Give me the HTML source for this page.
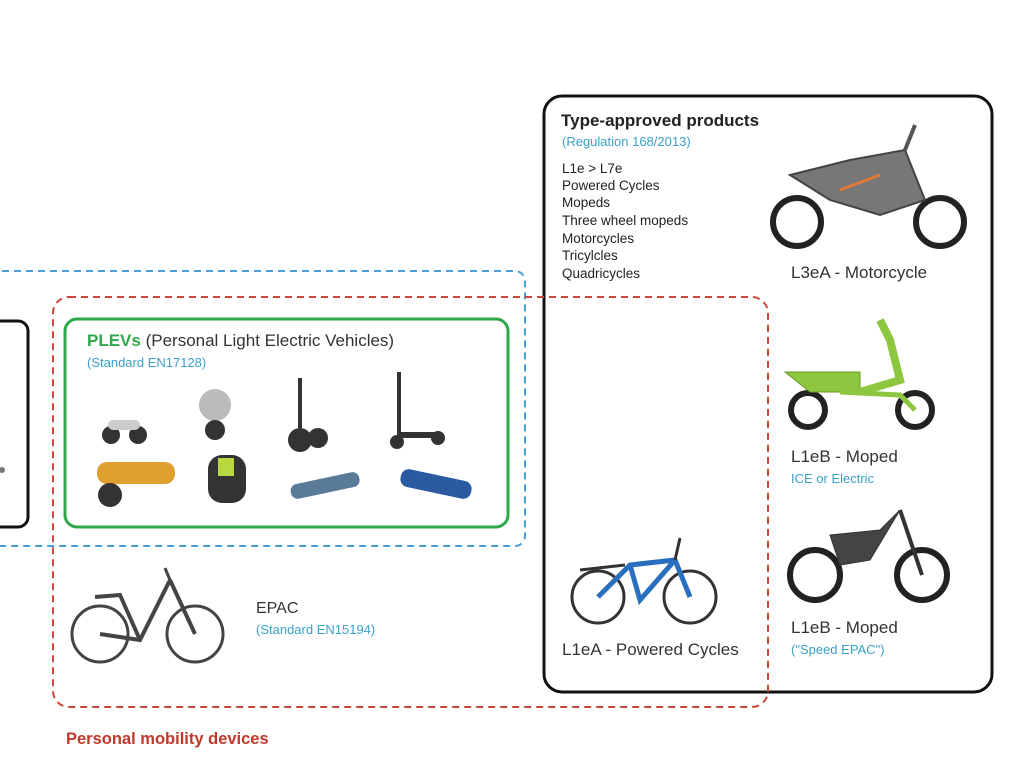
<!DOCTYPE html>
<html><head><meta charset="utf-8"><style>
html,body{margin:0;padding:0;background:#fff;}
body{width:1024px;height:768px;overflow:hidden;position:relative;font-family:"Liberation Sans",sans-serif;}
svg{position:absolute;left:0;top:0;}
</style></head><body>
<svg width="1024" height="768" viewBox="0 0 1024 768" xmlns="http://www.w3.org/2000/svg" font-family="Liberation Sans, sans-serif">
<rect x="544" y="96" width="448" height="596" rx="18" fill="none" stroke="#111" stroke-width="3"/>
<rect x="-20" y="271" width="545" height="275" rx="10" fill="none" stroke="#4a9fd8" stroke-width="2" stroke-dasharray="7,5"/>
<rect x="53" y="297" width="715" height="410" rx="16" fill="none" stroke="#d0453a" stroke-width="2" stroke-dasharray="7,5"/>
<rect x="65" y="319" width="443" height="208" rx="12" fill="none" stroke="#2ea84a" stroke-width="3"/>
<rect x="-20" y="321" width="48" height="206" rx="10" fill="none" stroke="#111" stroke-width="3"/>
<circle cx="2" cy="470" r="3" fill="#777"/>

<text x="561" y="126" font-size="17" font-weight="bold" fill="#222">Type-approved products</text>
<text x="562" y="146" font-size="13" fill="#3aa0c8">(Regulation 168/2013)</text>
<g font-size="13.5" fill="#222">
<text x="562" y="173">L1e &gt; L7e</text>
<text x="562" y="190">Powered Cycles</text>
<text x="562" y="207">Mopeds</text>
<text x="562" y="225">Three wheel mopeds</text>
<text x="562" y="243">Motorcycles</text>
<text x="562" y="260">Tricylcles</text>
<text x="562" y="278">Quadricycles</text>
</g>
<text x="791" y="278" font-size="17" fill="#333">L3eA - Motorcycle</text>
<text x="791" y="462" font-size="17" fill="#333">L1eB - Moped</text>
<text x="791" y="483" font-size="13" fill="#3aa0c8">ICE or Electric</text>
<text x="791" y="633" font-size="17" fill="#333">L1eB - Moped</text>
<text x="791" y="654" font-size="13" fill="#3aa0c8">("Speed EPAC")</text>
<text x="562" y="655" font-size="17" fill="#333">L1eA - Powered Cycles</text>
<text x="87" y="346" font-size="17" fill="#333"><tspan font-weight="bold" fill="#2ea84a">PLEVs</tspan> (Personal Light Electric Vehicles)</text>
<text x="87" y="367" font-size="13" fill="#3aa0c8">(Standard EN17128)</text>
<text x="256" y="613" font-size="16" fill="#333">EPAC</text>
<text x="256" y="634" font-size="13" fill="#3aa0c8">(Standard EN15194)</text>
<text x="66" y="744" font-size="16.5" font-weight="bold" fill="#c0392b">Personal mobility devices</text>

<g stroke="#222" fill="none">
<circle cx="797" cy="222" r="24" stroke-width="6"/>
<circle cx="940" cy="222" r="24" stroke-width="6"/>
<path d="M790 175 L850 160 L905 150 L925 200 L880 215 L830 200 Z" fill="#777" stroke="#444" stroke-width="2"/>
<path d="M840 190 L880 175" stroke="#e07a3a" stroke-width="3"/>
<path d="M905 150 L915 125" stroke="#555" stroke-width="4"/>
</g>
<g stroke="#222" fill="none">
<circle cx="808" cy="410" r="17" stroke-width="6"/>
<circle cx="915" cy="410" r="17" stroke-width="6"/>
<path d="M785 372 L860 372 L860 392 L810 392 Z" fill="#8dc63f" stroke="#6a9a2a"/>
<path d="M860 392 L900 380 L890 340 L880 320" stroke="#8dc63f" stroke-width="8"/>
<path d="M840 392 L900 395 L915 410" stroke="#8dc63f" stroke-width="5"/>
</g>
<g stroke="#222" fill="none">
<circle cx="815" cy="575" r="25" stroke-width="6"/>
<circle cx="922" cy="575" r="25" stroke-width="6"/>
<path d="M830 535 L880 530 L900 510 L870 560 L840 565 Z" fill="#444" stroke="#333"/>
<path d="M900 510 L922 575" stroke="#333" stroke-width="4"/>
</g>
<g stroke="#333" fill="none" stroke-width="3">
<circle cx="598" cy="597" r="26"/>
<circle cx="690" cy="597" r="26"/>
<path d="M598 597 L630 565 L675 560 L690 597 M630 565 L640 600 L675 560" stroke="#2a6fbf" stroke-width="5"/>
<path d="M580 570 L625 565" stroke-width="3"/>
<path d="M675 560 L680 538" />
</g>
<g stroke="#444" fill="none" stroke-width="3">
<circle cx="100" cy="634" r="28"/>
<circle cx="195" cy="634" r="28"/>
<path d="M100 634 L140 640 L170 580 M140 640 L120 595 L95 597 M170 580 L195 634" stroke-width="4"/>
<path d="M170 580 L165 568" />
</g>
<g fill="#333">
<circle cx="111" cy="435" r="9"/><circle cx="138" cy="435" r="9"/>
<rect x="108" y="420" width="32" height="10" rx="5" fill="#ccc"/>
<circle cx="215" cy="405" r="16" fill="#bbb"/><circle cx="215" cy="430" r="10"/>
<rect x="298" y="378" width="4" height="50"/><circle cx="300" cy="440" r="12"/><circle cx="318" cy="438" r="10"/>
<rect x="397" y="372" width="4" height="60"/><circle cx="397" cy="442" r="7"/><circle cx="438" cy="438" r="7"/><rect x="397" y="432" width="42" height="6"/>
<rect x="97" y="462" width="78" height="22" rx="10" fill="#e0a030"/><circle cx="110" cy="495" r="12"/>
<rect x="208" y="455" width="38" height="48" rx="14" fill="#333"/><rect x="218" y="458" width="16" height="18" fill="#b8d840"/>
<rect x="290" y="478" width="70" height="15" rx="7" fill="#5a7a9a" transform="rotate(-12 325 485)"/>
<rect x="400" y="475" width="72" height="18" rx="8" fill="#2a5aa0" transform="rotate(12 436 484)"/>
</g>
</svg>
</body></html>
